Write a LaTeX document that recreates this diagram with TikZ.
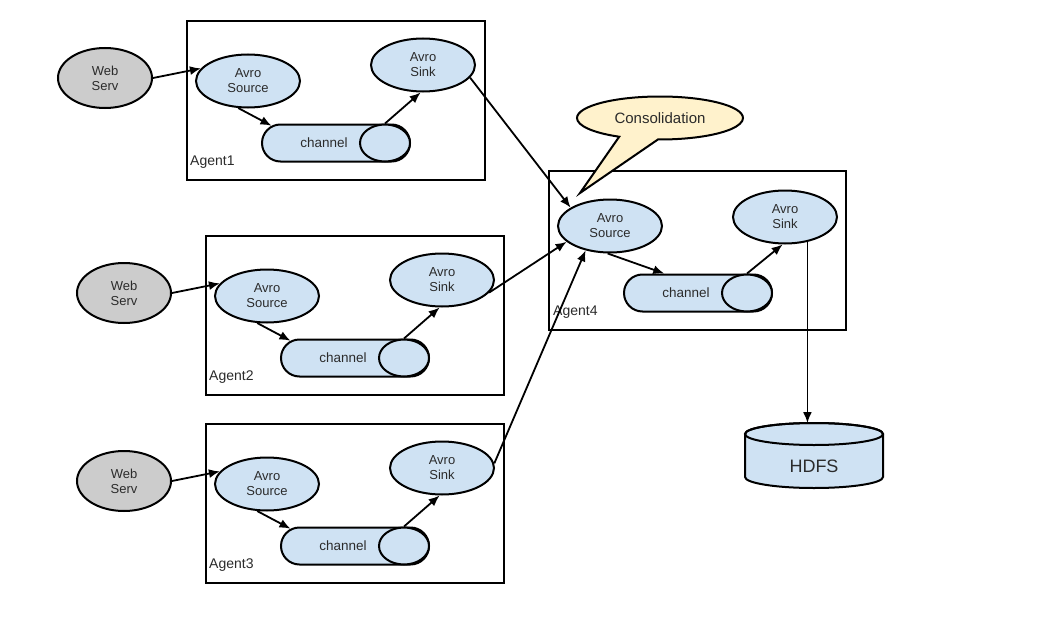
\documentclass[tikz,border=0pt]{standalone}
\usepackage{fontspec}
\setmainfont{Liberation Sans}
\usepackage{tikz}
\usetikzlibrary{arrows.meta,backgrounds,calc,shapes.geometric,shapes.misc,shapes.callouts,positioning}

\definecolor{nodeblue}{HTML}{CFE2F3}
\definecolor{webgray}{HTML}{CCCCCC}
\definecolor{notefill}{HTML}{FFF2CC}
\definecolor{inkgray}{HTML}{2B2B2B}

\tikzset{
  agentbox/.style={draw, line width=2pt},
  agentlabel/.style={anchor=west, inner sep=0pt, text=inkgray, font=\fontsize{14}{16}\selectfont},
  webnode/.style={ellipse, draw, fill=webgray, line width=2pt, minimum width=94, minimum height=60,
    inner sep=0pt, align=center, text=inkgray, font=\fontsize{13}{15}\selectfont},
  avronode/.style={ellipse, draw, fill=nodeblue, line width=2pt, minimum width=104, minimum height=53,
    inner sep=0pt, align=center, text=inkgray, font=\fontsize{13}{15}\selectfont},
  chanbox/.style={rounded rectangle, draw, fill=nodeblue, line width=2pt, minimum width=148,
    minimum height=37, inner sep=0pt},
  chanlabel/.style={text=inkgray, font=\fontsize{13.5}{15}\selectfont, xshift=-12pt},
  chanend/.style={ellipse, draw, fill=nodeblue, line width=2pt, minimum width=50, minimum height=37,
    inner sep=0pt},
  flow/.style={-{Latex[length=11pt,width=9pt]}, line width=1.8pt},
  cyl/.style={draw, fill=nodeblue, line width=2pt}
}

\begin{document}
\begin{tikzpicture}[x=1pt, y=-1pt]
\useasboundingbox[fill=white] (0,0) rectangle (1055,626);

% Agent1 .. Agent3
\foreach \i/\dx/\dy in {1/0/0, 2/19/215, 3/19/403}{
\begin{scope}[shift={(\dx,\dy)}]
  \draw[agentbox] (187,21) rectangle (485,180);
  \node[agentlabel] (lab\i) at (190,162) {Agent\i};
  \node[webnode] (web\i) at (105,78) {Web\\Serv};
  \node[avronode] (src\i) at (248,81) {Avro\\Source};
  \node[avronode] (snk\i) at (423,65) {Avro\\Sink};
  \node[chanbox, label={[chanlabel]center:channel}] (chan\i) at (336,143) {};
  \node[chanend] (cend\i) at (385,143) {};
  \draw[flow] (web\i.east) -- (src\i.165);
  \draw[flow] (src\i.-110) -- (chan\i.165);
  \draw[flow] (cend\i.north) -- (snk\i.-95);
\end{scope}}

% Agent4
\begin{scope}[shift={(362,150)}]
  \draw[agentbox] (187,21) rectangle (484,180);
  \node[agentlabel] (lab4) at (191,162) {Agent4};
  \node[avronode] (src4) at (248,76) {Avro\\Source};
  \node[avronode] (snk4) at (423,67) {Avro\\Sink};
  \node[chanbox, label={[chanlabel]center:channel}] (chan4) at (336,143) {};
  \node[chanend] (cend4) at (385,143) {};
  \draw[flow] (src4.-95) -- (chan4.150);
  \draw[flow] (cend4.north) -- (snk4.-95);
\end{scope}

\draw[flow] (snk1.-15) -- (src4.155);
\draw[flow] (snk2.-15) -- (src4.200);
\draw[flow] (snk3.5) -- (src4.-135);

% Consolidation note
\node[ellipse callout, draw, fill=notefill, line width=2pt, minimum width=166, minimum height=43,
  inner sep=0pt, callout absolute pointer={(580,193)}, callout pointer arc=28,
  text=inkgray, font=\fontsize{15}{17}\selectfont] (note) at (660,118) {Consolidation};

% HDFS
\filldraw[cyl] (745,434) -- (745,477) arc[start angle=180, end angle=0, x radius=69, y radius=11]
  -- (883,434) arc[start angle=0, end angle=-180, x radius=69, y radius=11] -- cycle;
\draw[line width=2pt] (814,434) ellipse[x radius=69, y radius=11];
\node[text=inkgray, font=\fontsize{18}{20}\selectfont] (hdfs) at (814,466) {HDFS};
\coordinate (hdfstop) at (808,423);
\draw[flow] (snk4.-48) -- (snk4.-48 |- hdfstop);
\end{tikzpicture}
\end{document}
